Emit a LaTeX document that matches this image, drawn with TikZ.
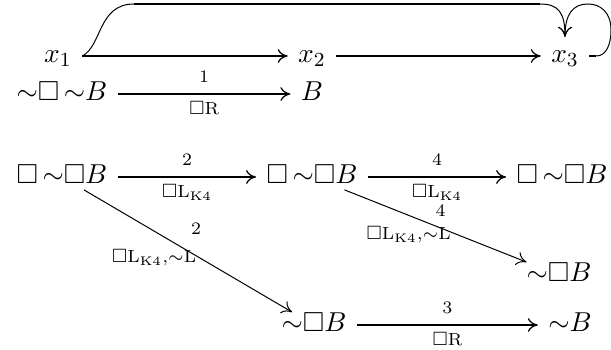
\documentclass[tikz,border=0pt]{standalone}
\usepackage{amssymb}
\usetikzlibrary{arrows.meta,calc}
\begin{document}
\begin{tikzpicture}[x=0.4pt,y=-0.4pt,
  term/.style={inner xsep=4pt, inner ysep=0pt, text height=7.7pt, text depth=2.2pt, font=\fontsize{11}{13}\selectfont},
  varnode/.style={term, inner ysep=2.5pt},
  thickarr/.style={line width=1pt,-{Computer Modern Rightarrow[line width=0.5pt,length=4pt,width=5.5pt]}},
  thinarr/.style={line width=0.4pt,-{Computer Modern Rightarrow[line width=0.4pt,length=4pt,width=5.5pt]}},
  thickline/.style={line width=1pt},
  thinline/.style={line width=0.4pt},
  lab/.style={font=\scriptsize, inner sep=1pt}]
\useasboundingbox (0,0) rectangle (611,350);
% row 1
\node[varnode] (x1) at (58,56) {$x_1$};
\node[varnode] (x2) at (312,56) {$x_2$};
\node[varnode] (x3) at (565,56) {$x_3$};
\draw[thickarr] (x1.east) -- (x2.west);
\draw[thickarr] (x2.east) -- (x3.west);
\coordinate (t1) at (134,4);
\coordinate (t2) at (540,4);
\draw[thinline] (x1.east) .. controls (102,46) and (98,4) .. (t1);
\draw[thickline] (t1) -- (t2);
\draw[thinarr] (t2) .. controls (558,4) and (565,12) .. (x3.north);
\draw[thickline] (x3.east) -- ++(7,0) coordinate (st);
\draw[thinarr] (st) .. controls (606,56) and (611,45) .. (611,30)
  .. controls (611,12) and (600,4) .. (588,4)
  .. controls (573,4) and (565,14) .. (x3.north);
% row 2
\node[term] (n1) at (62,94) {${\sim}\Box\,{\sim}B$};
\node[term] (n2) at (312,94) {$B$};
\draw[thickarr] (n1.east) -- node[lab,above=3pt]{$1$} node[lab,below=1.5pt]{$\Box\mathrm{R}$} (n2.west);
% row 3
\node[term] (r1) at (62,177) {$\Box\,{\sim}\Box B$};
\node[term] (r2) at (312,177) {$\Box\,{\sim}\Box B$};
\node[term] (r3) at (562,177) {$\Box\,{\sim}\Box B$};
\draw[thickarr] (r1.east) -- node[lab,above=3pt]{$2$} node[lab,below=1.5pt]{$\Box\mathrm{L}_{\mathrm{K4}}$} (r2.west);
\draw[thickarr] (r2.east) -- node[lab,above=3pt]{$4$} node[lab,below=1.5pt]{$\Box\mathrm{L}_{\mathrm{K4}}$} (r3.west);
% lower nodes
\node[term] (d1) at (559,275) {${\sim}\Box B$};
\node[term] (b1) at (314,325) {${\sim}\Box B$};
\node[term] (b2) at (570,325) {${\sim}B$};
\draw[thinarr] (r1) -- node[lab,pos=0.5,shift={(8,-22)}]{$2$} node[lab,pos=0.5,shift={(-34,7)}]{$\Box\mathrm{L}_{\mathrm{K4}}{,}{\sim}\mathrm{L}$} (b1);
\draw[thinarr] (r2) -- node[lab,pos=0.5,shift={(5,-15)}]{$4$} node[lab,pos=0.5,shift={(-27,9)}]{$\Box\mathrm{L}_{\mathrm{K4}}{,}{\sim}\mathrm{L}$} (d1);
\draw[thickarr] (b1.east) -- node[lab,above=3pt]{$3$} node[lab,below=1.5pt]{$\Box\mathrm{R}$} (b2.west);
\end{tikzpicture}
\end{document}
